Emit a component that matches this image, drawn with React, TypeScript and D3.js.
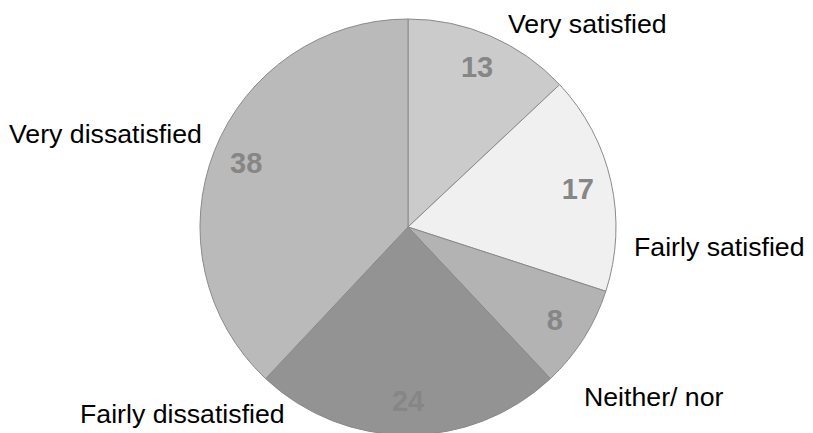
import React from "react";
import * as d3 from "d3";

const categories = ["Very satisfied", "Fairly satisfied", "Neither/ nor", "Fairly dissatisfied", "Very dissatisfied"];
const values = [13, 17, 8, 24, 38];
const colors = ["#cbcbcb", "#f0f0f0", "#b3b3b3", "#939393", "#bababa"];
// outer label anchors (x, y of text start/baseline relative to pie centre)
const labelOffsets: [number, number][] = [
  [100, -194],
  [226, 29],
  [176, 179],
  [-328, 196],
  [-399, -84],
];

const W = 813;
const H = 433;
const CX = 408;
const CY = 227;
const R = 208;

export default function App() {
  const pie = d3.pie<number>().sort(null).value((d) => d);
  const arcs = pie(values);
  const arc = d3.arc<d3.PieArcDatum<number>>().innerRadius(0).outerRadius(R);
  const labelArc = d3.arc<d3.PieArcDatum<number>>().innerRadius(174).outerRadius(174);

  return (
    <svg
      width={W}
      height={H}
      style={{ position: "absolute", left: 0, top: 0, background: "#fff" }}
      fontFamily="Liberation Sans, Arial, sans-serif"
    >
      <g transform={`translate(${CX},${CY})`}>
        {arcs.map((a, i) => (
          <path key={i} d={arc(a) as string} fill={colors[i]} stroke="#8a8a8a" strokeWidth={1} />
        ))}
        {arcs.map((a, i) => {
          const [x, y] = labelArc.centroid(a);
          return (
            <text
              key={"v" + i}
              x={x}
              y={y}
              textAnchor="middle"
              dominantBaseline="central"
              fontSize={29}
              fontWeight="bold"
              fill="#868686"
            >
              {values[i]}
            </text>
          );
        })}
        {categories.map((c, i) => (
          <text key={"c" + i} x={labelOffsets[i][0]} y={labelOffsets[i][1]} fontSize={26.7} fill="#000">
            {c}
          </text>
        ))}
      </g>
    </svg>
  );
}
